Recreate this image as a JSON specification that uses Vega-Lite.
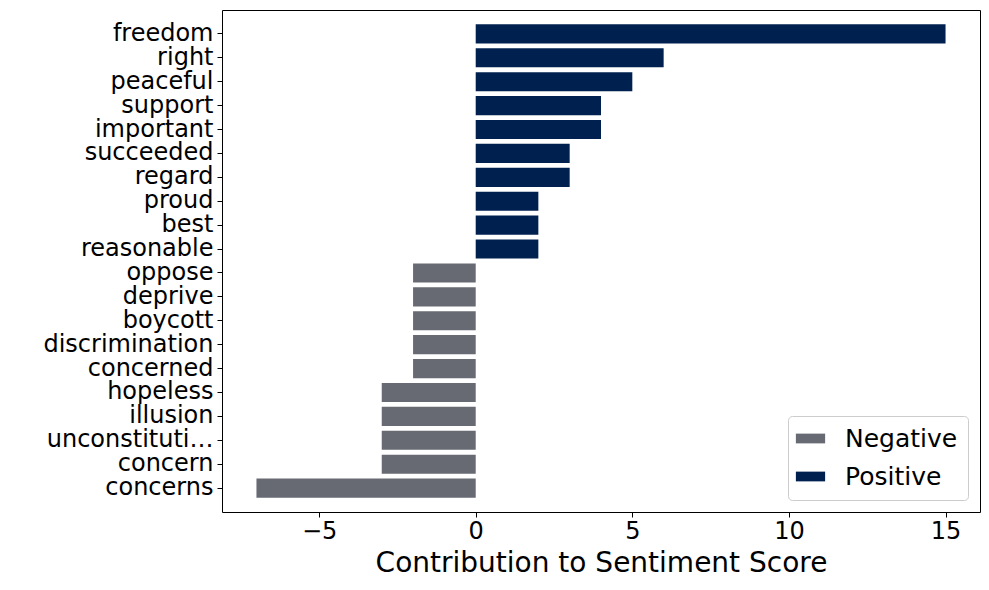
{
  "$schema": "https://vega.github.io/schema/vega-lite/v6.json",
  "autosize": "none",
  "width": 758,
  "height": 502,
  "padding": {"left": 222, "top": 10, "right": 9, "bottom": 78},
  "background": "white",
  "config": {
    "font": "DejaVu Sans",
    "view": {"stroke": "black", "strokeWidth": 1},
    "axis": {"grid": false, "domain": false, "labelFont": "DejaVu Sans", "labelColor": "black", "tickColor": "black", "tickSize": 5, "labelFontSize": 24}
  },
  "data": {
    "values": [
      {"word": "freedom", "score": 15, "type": "Positive"},
      {"word": "right", "score": 6, "type": "Positive"},
      {"word": "peaceful", "score": 5, "type": "Positive"},
      {"word": "support", "score": 4, "type": "Positive"},
      {"word": "important", "score": 4, "type": "Positive"},
      {"word": "succeeded", "score": 3, "type": "Positive"},
      {"word": "regard", "score": 3, "type": "Positive"},
      {"word": "proud", "score": 2, "type": "Positive"},
      {"word": "best", "score": 2, "type": "Positive"},
      {"word": "reasonable", "score": 2, "type": "Positive"},
      {"word": "oppose", "score": -2, "type": "Negative"},
      {"word": "deprive", "score": -2, "type": "Negative"},
      {"word": "boycott", "score": -2, "type": "Negative"},
      {"word": "discrimination", "score": -2, "type": "Negative"},
      {"word": "concerned", "score": -2, "type": "Negative"},
      {"word": "hopeless", "score": -3, "type": "Negative"},
      {"word": "illusion", "score": -3, "type": "Negative"},
      {"word": "unconstitutional", "score": -3, "type": "Negative"},
      {"word": "concern", "score": -3, "type": "Negative"},
      {"word": "concerns", "score": -7, "type": "Negative"}
    ]
  },
  "mark": {"type": "bar"},
  "encoding": {
    "y": {"field": "word", "type": "nominal", "sort": null, "title": null,
      "scale": {"paddingInner": 0.2, "paddingOuter": 0.6},
      "axis": {"labelPadding": 4}},
    "x": {"field": "score", "type": "quantitative", "title": "Contribution to Sentiment Score",
      "scale": {"domain": [-8.1, 16.1], "nice": false, "zero": false},
      "axis": {"values": [-5, 0, 5, 10, 15], "titleFontSize": 28, "titleFontWeight": "normal", "titleColor": "black", "titlePadding": 6}},
    "color": {"field": "type", "type": "nominal",
      "scale": {"domain": ["Negative", "Positive"], "range": ["#676a73", "#00214f"]},
      "legend": {"title": null, "orient": "bottom-right", "offset": 12, "labelFontSize": 25, "labelColor": "black",
        "symbolType": "M-1.5,-0.5H1.5V0.5H-1.5Z", "symbolSize": 380, "symbolStrokeWidth": 0,
        "strokeColor": "#cccccc", "padding": 10, "cornerRadius": 4, "rowPadding": 12, "labelOffset": 22, "fillColor": "white"}}
  }
}
